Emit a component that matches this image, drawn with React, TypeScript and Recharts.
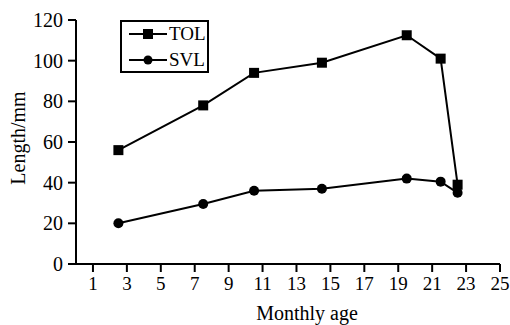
import { LineChart, Line, XAxis, YAxis, Legend, Label } from "recharts";

const months = [2.5, 7.5, 10.5, 14.5, 19.5, 21.5, 22.5];
const tolValues = [56, 78, 94, 99, 112.5, 101, 39];
const svlValues = [20, 29.5, 36, 37, 42, 40.5, 35];
const xTicks = [1, 3, 5, 7, 9, 11, 13, 15, 17, 19, 21, 23, 25];
const yTicks = [0, 20, 40, 60, 80, 100, 120];

const data = months.map((m, i) => ({ month: m, TOL: tolValues[i], SVL: svlValues[i] }));

const FONT = "Liberation Serif, serif";

const SquareDot = (props: any) => {
  const { cx, cy } = props;
  if (cx == null || cy == null) return null;
  return <rect x={cx - 5} y={cy - 5} width={10} height={10} fill="#000" />;
};

const RoundDot = (props: any) => {
  const { cx, cy } = props;
  if (cx == null || cy == null) return null;
  return <circle cx={cx} cy={cy} r={5} fill="#000" />;
};

const LegendBox = () => {
  const items = [
    { name: "TOL", square: true },
    { name: "SVL", square: false },
  ];
  return (
    <div
      style={{
        border: "2px solid #000",
        width: 85,
        height: 49,
        background: "#fff",
        boxSizing: "content-box",
      }}
    >
      <svg width={85} height={49} style={{ display: "block" }}>
        {items.map((it, i) => {
          const y = 12 + i * 26;
          return (
            <g key={it.name}>
              <line x1={7} x2={45} y1={y} y2={y} stroke="#000" strokeWidth={2} />
              {it.square ? (
                <rect x={21} y={y - 5} width={10} height={10} fill="#000" />
              ) : (
                <circle cx={26} cy={y} r={4.5} fill="#000" />
              )}
              <text x={47} y={y + 6} style={{ fontSize: 19, fontFamily: FONT, fill: "#000" }}>
                {it.name}
              </text>
            </g>
          );
        })}
      </svg>
    </div>
  );
};

const YTitle = (props: any) => {
  const { viewBox } = props;
  const cx = 25;
  const cy = viewBox.y + viewBox.height / 2 - 4;
  return (
    <text
      x={cx}
      y={cy}
      transform={`rotate(-90, ${cx}, ${cy})`}
      textAnchor="middle"
      style={{ fontSize: 20, fontFamily: FONT, fill: "#000" }}
    >
      Length/mm
    </text>
  );
};

const yTickStyle = { fill: "#000", fontSize: 20, fontFamily: FONT };
const xTickStyle = { fill: "#000", fontSize: 19, fontFamily: FONT };

export default function App() {
  return (
    <div style={{ position: "absolute", left: 0, top: 0, background: "#fff", fontFamily: FONT }}>
      <LineChart
        width={510}
        height={325}
        data={data}
        margin={{ top: 20, right: 10, left: 0, bottom: 0 }}
        style={{ fontFamily: FONT }}
      >
        <XAxis
          dataKey="month"
          type="number"
          domain={[0, 25]}
          ticks={xTicks}
          interval={0}
          height={61}
          tickSize={8}
          tickMargin={5}
          axisLine={{ stroke: "#000", strokeWidth: 2 }}
          tickLine={{ stroke: "#000", strokeWidth: 2 }}
          tick={xTickStyle}
        >
          <Label
            value="Monthly age"
            position="insideBottom"
            offset={5}
            dx={19}
            style={{ fill: "#000", fontSize: 20, fontFamily: FONT }}
          />
        </XAxis>
        <YAxis
          type="number"
          domain={[0, 120]}
          ticks={yTicks}
          interval={0}
          width={76}
          tickSize={8}
          tickMargin={5}
          axisLine={{ stroke: "#000", strokeWidth: 2 }}
          tickLine={{ stroke: "#000", strokeWidth: 2 }}
          tick={yTickStyle}
        >
          <Label content={YTitle} />
        </YAxis>
        <Legend
          content={LegendBox}
          layout="horizontal"
          verticalAlign="middle"
          wrapperStyle={{ position: "absolute", left: 120, top: 20, width: "auto" }}
        />
        <Line
          type="linear"
          dataKey="TOL"
          stroke="#000"
          strokeWidth={2}
          dot={<SquareDot />}
          isAnimationActive={false}
        />
        <Line
          type="linear"
          dataKey="SVL"
          stroke="#000"
          strokeWidth={2}
          dot={<RoundDot />}
          isAnimationActive={false}
        />
      </LineChart>
    </div>
  );
}
